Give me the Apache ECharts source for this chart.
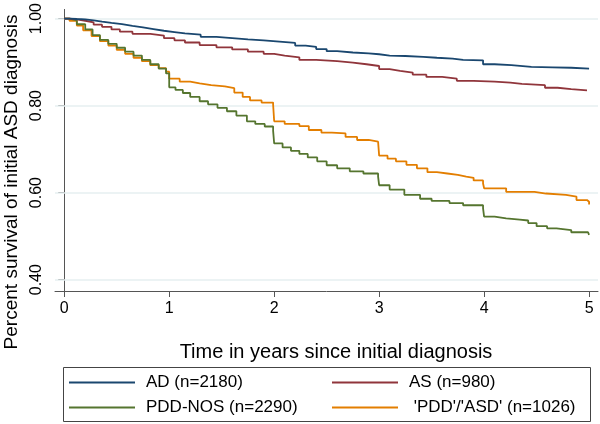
<!DOCTYPE html>
<html>
<head>
<meta charset="utf-8">
<script src="https://cdn.jsdelivr.net/npm/echarts@6/dist/echarts.min.js"></script>
<style>html,body{margin:0;padding:0;background:#fff}#c{width:600px;height:424px}</style>
</head>
<body>
<div id="c"></div>
<script>
var xTicks = [0, 1, 2, 3, 4, 5];
var yTicks = [0.4, 0.6, 0.8, 1.0];

var seriesNames = ['AD (n=2180)', 'AS (n=980)', 'PDD-NOS (n=2290)', " 'PDD'/'ASD' (n=1026)"];

var adT = [0, 0.05, 0.12, 0.2, 0.28, 0.36, 0.45, 0.55, 0.65, 0.75, 0.85, 0.95, 1.05, 1.15, 1.3, 1.45, 1.6, 1.75, 1.9, 2.05, 2.2, 2.3, 2.4, 2.5, 2.6, 2.75, 2.9, 3.0, 3.1, 3.25, 3.42, 3.55, 3.7, 3.8, 3.99, 4.1, 4.26, 4.45, 4.65, 4.83, 5.0];
var adS = [1.000, 0.999, 0.998, 0.996, 0.993, 0.990, 0.987, 0.983, 0.980, 0.976, 0.972, 0.969, 0.966, 0.963, 0.958, 0.955, 0.952, 0.950, 0.947, 0.944, 0.938, 0.935, 0.930, 0.925, 0.922, 0.920, 0.918, 0.915, 0.914, 0.912, 0.910, 0.908, 0.905, 0.904, 0.895, 0.893, 0.889, 0.888, 0.887, 0.885, 0.885];

var asT = [0, 0.05, 0.12, 0.2, 0.28, 0.36, 0.45, 0.53, 0.65, 0.82, 0.95, 1.05, 1.15, 1.29, 1.45, 1.6, 1.75, 1.9, 2.0, 2.1, 2.24, 2.4, 2.6, 2.75, 2.88, 3.0, 3.1, 3.2, 3.32, 3.45, 3.6, 3.74, 3.9, 4.1, 4.25, 4.36, 4.58, 4.7, 4.83, 4.98];
var asS = [1.000, 0.998, 0.995, 0.991, 0.986, 0.981, 0.975, 0.970, 0.965, 0.961, 0.955, 0.950, 0.945, 0.939, 0.934, 0.929, 0.924, 0.919, 0.915, 0.911, 0.905, 0.902, 0.899, 0.895, 0.891, 0.884, 0.880, 0.876, 0.871, 0.866, 0.862, 0.857, 0.855, 0.853, 0.850, 0.847, 0.841, 0.838, 0.835, 0.835];

var pddT = [0, 0.05, 0.12, 0.2, 0.27, 0.34, 0.42, 0.5, 0.58, 0.66, 0.74, 0.82, 0.9, 0.97, 1.0, 1.06, 1.13, 1.2, 1.29, 1.37, 1.46, 1.55, 1.64, 1.74, 1.82, 1.91, 1.99, 2.0, 2.08, 2.16, 2.24, 2.32, 2.41, 2.5, 2.6, 2.72, 2.85, 2.99, 3.0, 3.1, 3.24, 3.39, 3.5, 3.67, 3.8, 3.99, 4.0, 4.1, 4.21, 4.34, 4.42, 4.5, 4.6, 4.69, 4.83, 4.99, 5.0];
var pddS = [1.000, 0.996, 0.987, 0.975, 0.962, 0.951, 0.942, 0.933, 0.924, 0.915, 0.905, 0.895, 0.885, 0.874, 0.842, 0.836, 0.829, 0.820, 0.810, 0.803, 0.795, 0.787, 0.777, 0.764, 0.758, 0.752, 0.742, 0.713, 0.704, 0.696, 0.689, 0.681, 0.672, 0.663, 0.656, 0.649, 0.644, 0.637, 0.617, 0.607, 0.595, 0.586, 0.581, 0.576, 0.571, 0.564, 0.545, 0.541, 0.538, 0.536, 0.530, 0.523, 0.518, 0.514, 0.509, 0.506, 0.503];

var asdT = [0, 0.05, 0.12, 0.18, 0.26, 0.34, 0.42, 0.5, 0.58, 0.66, 0.74, 0.82, 0.9, 0.97, 1.0, 1.1, 1.2, 1.29, 1.4, 1.53, 1.62, 1.7, 1.77, 1.88, 1.99, 2.0, 2.1, 2.24, 2.33, 2.45, 2.55, 2.68, 2.79, 2.9, 2.99, 3.0, 3.08, 3.16, 3.26, 3.36, 3.46, 3.55, 3.65, 3.75, 3.83, 3.9, 3.99, 4.0, 4.21, 4.48, 4.59, 4.78, 4.88, 4.98, 5.0];
var asdS = [1.000, 0.995, 0.984, 0.973, 0.960, 0.948, 0.938, 0.928, 0.919, 0.910, 0.902, 0.893, 0.886, 0.878, 0.862, 0.855, 0.851, 0.847, 0.844, 0.840, 0.830, 0.820, 0.812, 0.807, 0.802, 0.764, 0.758, 0.753, 0.744, 0.738, 0.736, 0.728, 0.721, 0.717, 0.713, 0.685, 0.678, 0.672, 0.664, 0.656, 0.647, 0.644, 0.641, 0.637, 0.634, 0.628, 0.621, 0.610, 0.602, 0.598, 0.595, 0.591, 0.583, 0.579, 0.573];

var colors = ['#1a476f', '#90353b', '#55752f', '#e37e00'];
var FONT = '"Liberation Sans", Arial, Helvetica, sans-serif';

function pairs(t, s) { return t.map(function (v, i) { return [v, s[i]]; }); }
var allData = [pairs(adT, adS), pairs(asT, asS), pairs(pddT, pddS), pairs(asdT, asdS)];

var legendText = {fontSize: 17, color: '#000', fontFamily: FONT, padding: [0, 0, 0, 6]};

var chart = echarts.init(document.getElementById('c'), null, {renderer: 'canvas'});
var series = allData.map(function (d, i) {
  return {
    name: seriesNames[i], type: 'line', step: 'end', data: d, showSymbol: false, symbol: 'none',
    lineStyle: {color: colors[i], width: 1.8}, itemStyle: {color: colors[i]}, z: 10 - i
  };
});
series.push({
  type: 'line', data: [], z: 1, silent: true,
  markLine: {
    silent: true, symbol: ['none', 'none'], label: {show: false},
    lineStyle: {color: '#e6eff1', width: 1.5, type: 'solid'},
    data: yTicks.map(function (v) { return {yAxis: v}; })
  }
});

var option = {
  animation: false,
  backgroundColor: '#ffffff',
  textStyle: {fontFamily: FONT},
  grid: {left: 55, right: 2, top: 5, bottom: 133, containLabel: false},
  xAxis: {
    type: 'value', min: -0.088, max: 5.085,
    axisLine: {show: true, lineStyle: {color: '#555', width: 1}},
    axisTick: {show: true, length: 6, lineStyle: {color: '#555'}, customValues: xTicks},
    axisLabel: {customValues: xTicks, fontSize: 16, color: '#000', margin: 10, fontFamily: FONT},
    splitLine: {show: false}
  },
  yAxis: {
    type: 'value', min: 0.374, max: 1.021,
    axisLine: {show: true, lineStyle: {color: '#555', width: 1}},
    axisTick: {show: true, length: 6, lineStyle: {color: '#555'}, customValues: yTicks},
    axisLabel: {customValues: yTicks, fontSize: 16, color: '#000', rotate: 90, margin: 10, fontFamily: FONT,
      formatter: function (v) { return v.toFixed(2); }},
    splitLine: {show: false}
  },
  legend: [
    {orient: 'vertical', left: 69, top: 374, height: 60, width: 250, padding: 0, itemWidth: 66, itemHeight: 2, itemGap: 8, icon: 'rect',
      data: [seriesNames[0], seriesNames[2]], textStyle: legendText},
    {orient: 'vertical', left: 332, top: 374, height: 60, width: 260, padding: 0, itemWidth: 66, itemHeight: 2, itemGap: 8, icon: 'rect',
      data: [seriesNames[1], seriesNames[3]], textStyle: legendText}
  ],
  graphic: [
    {type: 'rect', shape: {x: 63.5, y: 367.5, width: 527, height: 54}, style: {fill: 'none', stroke: '#444', lineWidth: 1}},
    {type: 'text', x: 336, y: 352, style: {text: 'Time in years since initial diagnosis', font: '20px ' + FONT, fill: '#000', align: 'center', verticalAlign: 'middle'}},
    {type: 'text', x: 12, y: 182, rotation: Math.PI / 2, style: {text: 'Percent survival of initial ASD diagnosis', font: '19px ' + FONT, fill: '#000', align: 'center', verticalAlign: 'middle'}}
  ],
  series: series
};
chart.setOption(option);
</script>
</body>
</html>
